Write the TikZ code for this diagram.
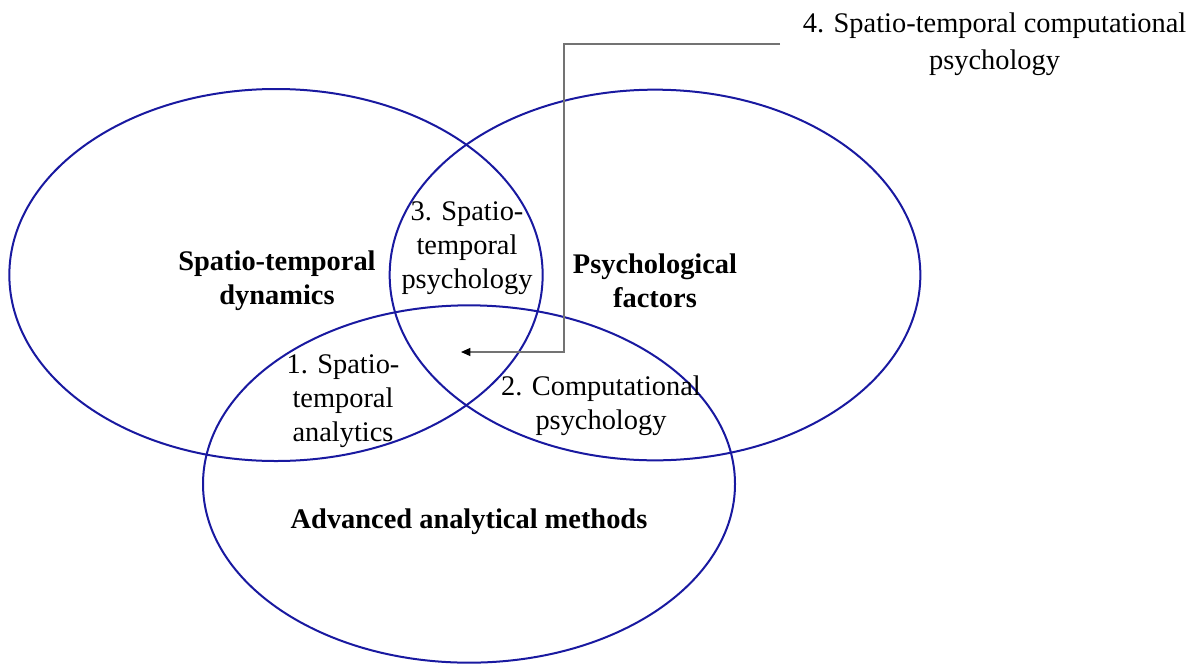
\documentclass[tikz,border=0pt]{standalone}
\usepackage{fontspec}
\setmainfont{Liberation Serif}
\usetikzlibrary{arrows.meta, shapes.geometric, positioning}

\definecolor{vennblue}{RGB}{25,25,160}

\tikzset{
  set/.style={ellipse, draw=vennblue, line width=1.5pt, inner sep=0pt},
  setname/.style={align=center, font=\fontsize{21.3}{25.5}\selectfont\bfseries},
  overlap/.style={align=center, font=\fontsize{21.3}{25.5}\selectfont},
}

\begin{document}
\begin{tikzpicture}[x=0.75pt, y=0.75pt]
\useasboundingbox (0,0) rectangle (1194,-664);

% the three sets
\node[set, minimum width=400pt, minimum height=279pt] (dyn) at (276,-275) {};
\node[set, minimum width=398pt, minimum height=278pt] (psy) at (655,-275) {};
\node[set, minimum width=399pt, minimum height=268pt] (met) at (469,-484) {};

% set names
\node[setname] (dyn-name) at (277,-281) {Spatio-temporal\\dynamics};
\node[setname] (psy-name) at (655,-281) {Psychological\\factors};
\node[setname] (met-name) at (469,-522) {Advanced analytical methods};

% overlaps
\node[overlap] (st-psy) at (467,-248) {3. Spatio-\\temporal\\psychology};
\node[overlap] (st-ana) at (343,-401) {1. Spatio-\\temporal\\analytics};
\node[overlap] (comp-psy) at (601,-406) {2. Computational\\psychology};

% the centre
\node[overlap, font=\fontsize{21.3}{28}\selectfont, anchor=west, inner xsep=17pt] (all) at (780,-44) {4. Spatio-temporal computational\\psychology};
\coordinate (centre) at (461,-352);
\draw[gray!90!black, line width=0.9pt, -{Triangle[length=7pt, width=6pt, color=black]}]
  (all.west) -| (564,-300) |- (centre);

\end{tikzpicture}
\end{document}
